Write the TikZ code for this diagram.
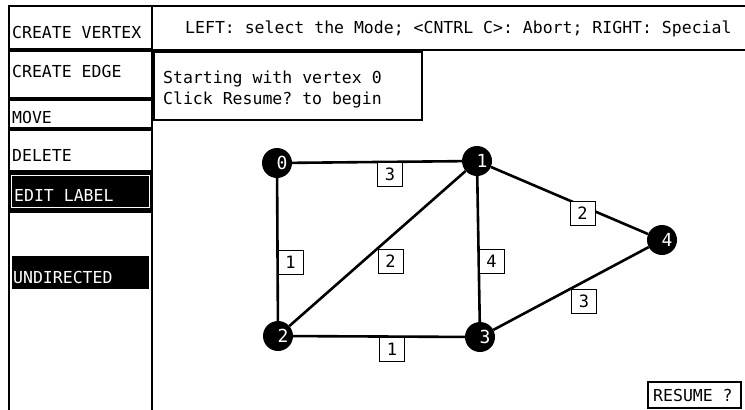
\documentclass[tikz,border=0pt]{standalone}
\usepackage{fontspec}
\setmonofont{DejaVu Sans Mono}
\begin{document}
\begin{tikzpicture}[x=1pt,y=-1pt,
  ui/.style={font=\ttfamily\fontsize{16.5}{18}\selectfont, inner sep=0pt, anchor=base west},
  frame/.style={draw=black, line width=1.5pt},
  vtx/.style={circle, fill=black, minimum size=30pt, inner sep=0pt},
  vnum/.style={text=white, font=\ttfamily\fontsize{18}{20}\selectfont, inner sep=0pt},
  edge/.style={line width=2.6pt, black},
  lbl/.style={draw=black, fill=white, line width=1.2pt, minimum width=25pt, minimum height=24pt,
    inner sep=0pt, anchor=north west, font=\ttfamily\fontsize{17}{18}\selectfont}]
\useasboundingbox (0,0) rectangle (745,410);
\fill[white] (0,0) rectangle (745,410);
% left panel
\draw[frame] (9,6) rectangle (152,49);
\draw[frame] (9,51) rectangle (152,98);
\draw[frame] (9,100) rectangle (152,128);
\draw[frame] (9,130) rectangle (152,171);
\draw[frame, fill=black] (9,173) rectangle (152,210);
\draw[white, line width=1pt] (11.5,175.5) rectangle (149.5,207.5);
\draw[frame] (9,416) -- (9,212) -- (152,212) -- (152,416);
\fill[black] (12,256) rectangle (149,289);
\node[ui] (bv) at (12,38) {CREATE VERTEX};
\node[ui] (be) at (12,77) {CREATE EDGE};
\node[ui] (bm) at (12,123) {MOVE};
\node[ui] (bd) at (12,161) {DELETE};
\node[ui, text=white] (bl) at (14,201) {EDIT LABEL};
\node[ui, text=white] (bu) at (13,283) {UNDIRECTED};
% message bar
\draw[frame] (752,6) -- (152,6) -- (152,50) -- (752,50);
\node[ui] (msg) at (185,33) {LEFT: select the Mode; <CNTRL C>: Abort; RIGHT: Special};
% starting box
\draw[draw=black, line width=2.2pt] (153.5,51.5) rectangle (422,120);
\node[ui] (s1) at (163,83) {Starting with vertex 0};
\node[ui] (s2) at (163,104) {Click Resume? to begin};
% resume
\draw[draw=black, line width=1.5pt] (648,382) rectangle (741,408);
\node[ui] (res) at (653,401) {RESUME ?};
% graph
\node[vtx, label={[vnum, xshift=5pt]center:0}] (v0) at (277,163) {};
\node[vtx, label={[vnum, xshift=5pt]center:1}] (v1) at (477,161) {};
\node[vtx, label={[vnum, xshift=5pt]center:2}] (v2) at (278,336) {};
\node[vtx, label={[vnum, xshift=5pt]center:3}] (v3) at (480,337) {};
\node[vtx, label={[vnum, xshift=5pt]center:4}] (v4) at (662,240) {};
\draw[edge] (v0) -- node[lbl] (l01) {3} (v1);
\draw[edge] (v0) -- node[lbl] (l02) {1} (v2);
\draw[edge] (v1) -- node[lbl] (l12) {2} (v2);
\draw[edge] (v1) -- node[lbl] (l13) {4} (v3);
\draw[edge] (v2) -- node[lbl] (l23) {1} (v3);
\draw[edge] (v1) -- node[lbl] (l14) {2} (v4);
\draw[edge] (v3) -- node[lbl] (l34) {3} (v4);
\end{tikzpicture}
\end{document}
